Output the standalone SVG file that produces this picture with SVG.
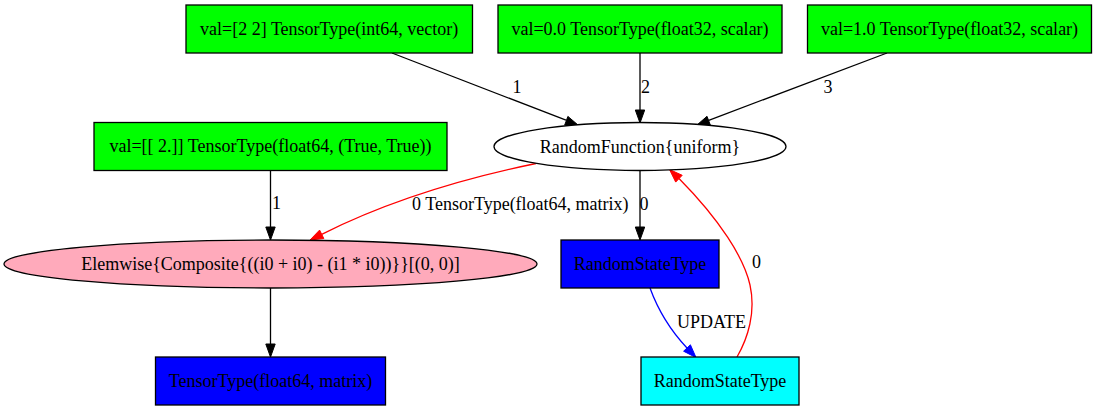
<svg xmlns="http://www.w3.org/2000/svg" width="1096" height="411" viewBox="0 0 1096 411">
<style>
text{font-family:"Liberation Serif","Times New Roman",serif;font-size:18px;fill:#000}
.n{text-anchor:middle}
.sh{stroke:#000;stroke-width:1.3}
.e{fill:none;stroke-width:1.3}
</style>
<rect width="1096" height="411" fill="#fff"/>
<g id="connectors">
  <g id="e_A_RF"><path class="e" stroke="#000" d="M392,53 L566,120.2"/><polygon points="578,125 567.9,116.4 564.7,125.1" fill="#000" stroke="#000"/><text x="517" y="93" class="n">1</text></g>
  <g id="e_B_RF"><path class="e" stroke="#000" d="M640,53 L640,110"/><polygon points="640,123 635.3,110 644.7,110" fill="#000" stroke="#000"/><text x="641" y="93">2</text></g>
  <g id="e_C_RF"><path class="e" stroke="#000" d="M887,53 L708.7,120.3"/><polygon points="697,125 707,116.3 710.3,125" fill="#000" stroke="#000"/><text x="828" y="93" class="n">3</text></g>
  <g id="e_D_E"><path class="e" stroke="#000" d="M270.5,170.5 L270.5,227"/><polygon points="270.5,240 265.8,227 275.2,227" fill="#000" stroke="#000"/><text x="272" y="209">1</text></g>
  <g id="e_RF_E"><path class="e" stroke="#f00" d="M536,163.5 C480,175 400,195 321.7,234.3"/><polygon points="310,240 319.6,230.1 323.8,238.5" fill="#f00" stroke="#f00"/><text x="412" y="210">0 TensorType(float64, matrix)</text></g>
  <g id="e_RF_RS"><path class="e" stroke="#000" d="M640,170.5 L640,227"/><polygon points="640,240 635.3,227 644.7,227" fill="#000" stroke="#000"/><text x="639.5" y="210">0</text></g>
  <g id="e_E_T"><path class="e" stroke="#000" d="M270.5,288 L270.5,344"/><polygon points="270.5,357 265.8,344 275.2,344" fill="#000" stroke="#000"/></g>
  <g id="e_RS_RS2"><path class="e" stroke="#00f" d="M650,288 C658,310 672,332 687,348"/><polygon points="696,357.5 683.6,351.2 690.4,344.8" fill="#00f" stroke="#00f"/><text x="677" y="328">UPDATE</text></g>
  <g id="e_RS2_RF"><path class="e" stroke="#f00" d="M737,357 C748,338 756,312 750,285 C744,258 720,220 679,178.5"/><polygon points="669.5,169.5 682.2,175.3 675.7,182.1" fill="#f00" stroke="#f00"/><text x="752" y="268">0</text></g>
</g>
<g id="nA"><rect class="sh" x="186" y="5" width="286.5" height="48" fill="#0f0"/><text x="329.2" y="34.5" class="n">val=[2 2] TensorType(int64, vector)</text></g>
<g id="nB"><rect class="sh" x="498" y="5" width="284" height="48" fill="#0f0"/><text x="640" y="34.5" class="n">val=0.0 TensorType(float32, scalar)</text></g>
<g id="nC"><rect class="sh" x="807.5" y="5" width="284" height="48" fill="#0f0"/><text x="949.5" y="34.5" class="n">val=1.0 TensorType(float32, scalar)</text></g>
<g id="nD"><rect class="sh" x="94" y="122.5" width="353" height="48" fill="#0f0"/><text x="270.5" y="152" class="n">val=[[ 2.]] TensorType(float64, (True, True))</text></g>
<g id="nRF"><ellipse class="sh" cx="640" cy="146.5" rx="146" ry="24" fill="#fff"/><text x="640" y="152.5" class="n">RandomFunction{uniform}</text></g>
<g id="nE"><ellipse class="sh" cx="270.5" cy="264" rx="266.5" ry="24" fill="#FFAABB"/><text x="270.5" y="270" class="n">Elemwise{Composite{((i0 + i0) - (i1 * i0))}}[(0, 0)]</text></g>
<g id="nT"><rect class="sh" x="155.5" y="357" width="230" height="48" fill="#00f"/><text x="270.5" y="387" class="n">TensorType(float64, matrix)</text></g>
<g id="nRS"><rect class="sh" x="561" y="240" width="158" height="48" fill="#00f"/><text x="640" y="270" class="n">RandomStateType</text></g>
<g id="nRS2"><rect class="sh" x="641" y="357" width="158" height="48" fill="#0ff"/><text x="720" y="387" class="n">RandomStateType</text></g>
</svg>
